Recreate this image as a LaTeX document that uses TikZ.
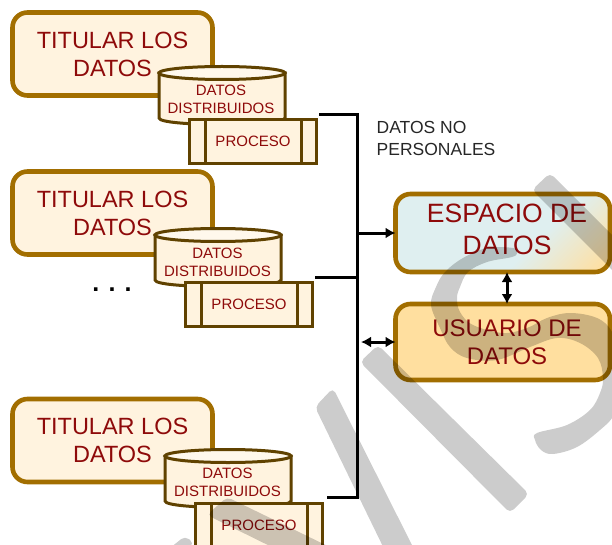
\documentclass[tikz,border=0pt]{standalone}
\usepackage{fontspec}
\setmainfont{Liberation Sans}
\usetikzlibrary{arrows.meta,positioning,shapes}
\definecolor{titborder}{HTML}{A26E00}
\definecolor{titfill}{HTML}{FFF3DF}
\definecolor{dbborder}{HTML}{604200}
\definecolor{dbtop}{HTML}{FFF8EC}
\definecolor{wordred}{HTML}{8E0A0A}
\definecolor{espteal}{HTML}{DFEFF0}
\definecolor{esporange}{HTML}{FFDFA0}
\definecolor{usufill}{HTML}{FFDF9F}
\pgfdeclareverticalshading{espshade}{100bp}{color(0bp)=(esporange); color(17bp)=(esporange); color(40bp)=(espteal); color(100bp)=(espteal)}
\tikzset{
  titbox/.style={draw=titborder,line width=4.6pt,rounded corners=15pt,fill=titfill,minimum width=200pt,minimum height=83pt,inner sep=0pt,outer sep=0pt,align=center,text=wordred,font=\fontsize{23.5}{28}\selectfont},
  dbbody/.style={draw=dbborder,line width=3pt,fill=titfill},
  dbcap/.style={draw=dbborder,line width=3pt,fill=dbtop},
  dbtext/.style={align=center,text=wordred,font=\fontsize{15}{18}\selectfont,inner sep=0pt},
  procbox/.style={draw=dbborder,line width=3pt,fill=titfill,minimum width=127pt,minimum height=44pt,inner sep=0pt,outer sep=0pt,text=wordred,font=\fontsize{15}{18}\selectfont},
  bigbox/.style={draw=titborder,line width=4.6pt,rounded corners=15pt,minimum width=214.5pt,inner sep=0pt,outer sep=0pt},
  bigtext/.style={align=center,text=wordred,inner sep=0pt},
  link/.style={line width=3pt},
  linktip/.style={>={Latex[length=10pt,width=11pt]}},
  mark stroke/.style={fill=black,opacity=0.2,rounded corners=5pt}
}
\begin{document}
\begin{tikzpicture}[x=1pt,y=-1pt]
\path[use as bounding box,clip] (0,0) rectangle (612,545);
\node[titbox] (tit1) at (112.5,54) {TITULAR LOS\\DATOS};
\node[titbox] (tit2) at (112.5,213) {TITULAR LOS\\DATOS};
\node[titbox] (tit3) at (112.5,440.5) {TITULAR LOS\\DATOS};
\draw[dbbody] (159,73)--(159,118) .. controls (159,126.7) and (285,126.7) .. (285,118)--(285,73)--cycle;
\draw[dbcap] (222,73) ellipse (63 and 6.5);
\draw[dbbody] (155,235)--(155,280) .. controls (155,288.7) and (281,288.7) .. (281,280)--(281,235)--cycle;
\draw[dbcap] (218,235) ellipse (63 and 6.5);
\draw[dbbody] (165,456)--(165,501) .. controls (165,509.7) and (291,509.7) .. (291,501)--(291,456)--cycle;
\draw[dbcap] (228,456) ellipse (63 and 6.5);
\node[dbtext] (dbt1) at (221,99) {DATOS\\DISTRIBUIDOS};
\node[dbtext] (dbt2) at (217.5,262) {DATOS\\DISTRIBUIDOS};
\node[dbtext] (dbt3) at (227.5,482.5) {DATOS\\DISTRIBUIDOS};
\node[procbox] (proc1) at (253,141.5) {PROCESO};
\node[procbox] (proc2) at (249,304.5) {PROCESO};
\node[procbox] (proc3) at (259,525.5) {PROCESO};
\draw[dbborder,line width=3pt] ([xshift=16pt]proc1.north west)--([xshift=16pt]proc1.south west) ([xshift=-15pt]proc1.north east)--([xshift=-15pt]proc1.south east);
\draw[dbborder,line width=3pt] ([xshift=16pt]proc2.north west)--([xshift=16pt]proc2.south west) ([xshift=-15pt]proc2.north east)--([xshift=-15pt]proc2.south east);
\draw[dbborder,line width=3pt] ([xshift=16pt]proc3.north west)--([xshift=16pt]proc3.south west) ([xshift=-15pt]proc3.north east)--([xshift=-15pt]proc3.south east);
\node[inner sep=0pt,anchor=base] (dots) at (112,291) {\fontsize{25}{25}\selectfont\bfseries . . .};
\node[bigbox,minimum height=78pt,shade,shading=espshade,shading angle=45] (esp) at (502.75,233) {};
\node[bigbox,minimum height=76pt,fill=usufill] (usu) at (502.75,342) {};
\node[bigtext,font=\fontsize{26.5}{32}\selectfont] (esplabel) at (507,229.5) {ESPACIO DE\\DATOS};
\node[bigtext,font=\fontsize{24}{27.5}\selectfont] (usulabel) at (507,342) {USUARIO DE\\DATOS};
\node[inner sep=0pt,anchor=west,align=left,text=black!85,font=\fontsize{17.5}{22}\selectfont] (nopers) at (376.5,138) {DATOS NO\\PERSONALES};
\coordinate (c1) at (319,115);
\coordinate (c2) at (315,277);
\coordinate (c3) at (327,497);
\coordinate (s1) at (357,115);
\coordinate (s2) at (357,233);
\coordinate (s3) at (357,277);
\coordinate (s4) at (357,497);
\coordinate (s5) at (361,342);
\draw[link,line join=miter] (c1)--(s1)--(s4)--(c3);
\draw[link] (c2)--(s3);
\draw[link,linktip,->] (s2)--(esp.west);
\draw[link,linktip,<->] (s5)--(usu.west);
\draw[link,linktip,<->] ([xshift=4.25pt]esp.south)--([xshift=4.25pt]usu.north);
\fill[mark stroke] (315,407)--(333,388)--(420,561)--(390,561)--cycle;
\fill[mark stroke] (360,362)--(378,345)--(529,494)--(510,513)--cycle;
\fill[mark stroke] (207,515)--(227,497)--(340,552)--(282,552)--cycle;
\fill[mark stroke] (185,536)--(194,543)--(180,560)--(160,556)--cycle;
\fill[mark stroke] (532,190)--(550,173)--(640,263)--(640,298)--cycle;
\fill[fill=black,opacity=0.2] plot[smooth cycle,tension=0.6] coordinates {(513,248) (487,248) (463,258) (445,272) (436,287) (431,305) (440,328) (450,347) (467,358) (497,360) (530,347) (557,338) (580,343) (598,358) (603,378) (600,393) (590,410) (567,425) (537,433) (535,440) (541,450) (553,454) (577,447) (600,430) (614,415) (622,390) (620,360) (612,332) (597,318) (570,313) (547,318) (527,328) (503,333) (473,325) (460,312) (457,298) (460,287) (468,272) (487,262) (512,257) (517,253)};
\end{tikzpicture}
\end{document}
